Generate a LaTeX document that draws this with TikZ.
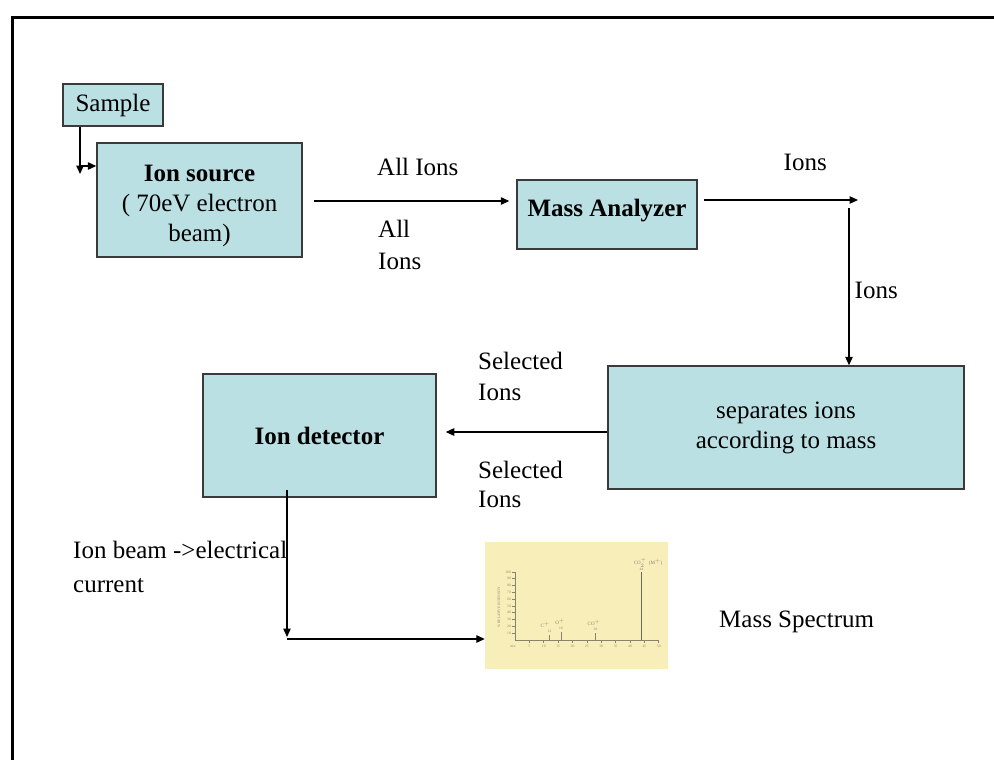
\documentclass[tikz,border=0pt]{standalone}
\usepackage{fontspec}
\setmainfont{Liberation Serif}
\usetikzlibrary{arrows.meta}
\definecolor{boxfill}{HTML}{BBE0E3}
\definecolor{boxline}{HTML}{3A3A3A}
\definecolor{paper}{HTML}{F8EEBA}
\definecolor{ink}{HTML}{8A846C}
\begin{document}
\begin{tikzpicture}[x=1pt,y=-1pt,
  font=\fontsize{25}{30}\selectfont,
  stage/.style={draw=boxline, line width=1.5pt, fill=boxfill, align=center, inner sep=0pt},
  lbl/.style={inner sep=0pt, anchor=base west},
  arr/.style={line width=1.3pt, -{Triangle[length=8.5pt,width=7.5pt]}},
  plotline/.style={draw=ink, line width=0.7pt},
  tiny/.style={font=\fontsize{3.6}{4}\selectfont, text=ink, inner sep=0pt}
]
\useasboundingbox (0,0) rectangle (994,760);
\fill[white] (0,0) rectangle (994,760);

% page frame (top and left edges)
\draw[line width=3pt] (12.5,760) -- (12.5,17.5) -- (994,17.5);

% process stages
\node[stage, minimum width=100pt, minimum height=42pt] (sample) at (113,105) {Sample};
\node[stage, minimum width=205pt, minimum height=114pt] (source) at (199.5,200)
  {\raisebox{-5pt}[\height][\depth]{\begin{tabular}{@{}c@{}}\textbf{Ion source}\\( 70eV electron\\beam)\end{tabular}}};
\node[stage, minimum width=180pt, minimum height=69pt] (ma) at (607,214.5)
  {\raisebox{4pt}[\height][\depth]{\textbf{Mass Analyzer}}};
\node[stage, minimum width=356pt, minimum height=123pt] (sep) at (786,427.5)
  {separates ions\\according to mass};
\node[stage, minimum width=233pt, minimum height=123pt] (det) at (319.5,435.5) {\textbf{Ion detector}};

% spectrum picture
\node[fill=paper, minimum width=183pt, minimum height=127pt, inner sep=0pt] (spec) at (576.5,605.5) {};

% sample feed
\coordinate (feed) at (80,174);
\coordinate (feedbend) at (80,166);
\draw[arr] (sample.south -| feed) -- (feed);
\draw[arr] (feedbend) -- (feedbend -| source.west);

% source -> analyzer
\draw[arr, shorten <=11pt, shorten >=7pt] (source.east |- 0,201) -- (ma.west |- 0,201);
\node[lbl] (allA) at (377,175) {All Ions};
\node[lbl] (allB) at (378,237) {All};
\node[lbl] (allC) at (378,269) {Ions};

% analyzer -> separator
\coordinate (turn) at (858,200);
\draw[arr, shorten <=6pt] (ma.east |- turn) -- (turn);
\node[lbl] (ionsA) at (783.5,170) {Ions};
\coordinate (down) at (849,208);
\draw[arr] (down) -- (down |- sep.north);
\node[lbl] (ionsB) at (854.5,298) {Ions};

% separator -> detector
\draw[arr, shorten >=9pt] (sep.west |- 0,432) -- (det.east |- 0,432);
\node[lbl] (selA) at (478,369) {Selected};
\node[lbl] (selB) at (478,400) {Ions};
\node[lbl] (selC) at (478,478) {Selected};
\node[lbl] (selD) at (478,507) {Ions};

% detector -> spectrum
\coordinate (tap) at (287,490);
\coordinate (elbow) at (287,639);
\draw[arr] (tap) -- (tap |- 0,637);
\draw[arr] (elbow) -- (elbow -| spec.west);
\node[lbl] (beamA) at (73,558) {Ion beam ->electrical};
\node[lbl] (beamB) at (73,592) {current};
\node[lbl] (mslbl) at (719,627) {Mass Spectrum};

% spectrum plot: m/z 0..50 over x 515..659, 0..100 % over y 640..572
\draw[plotline] (515,572) -- (515,640) -- (659,640);
\foreach \k in {1,...,10}{
  \draw[plotline] (512,640-6.8*\k) -- (515,640-6.8*\k);
  \node[tiny, anchor=east] (yt\k) at (511,640-6.8*\k) {\the\numexpr\k*10\relax};
  \draw[plotline] (515+14.375*\k,640) -- (515+14.375*\k,643);
  \node[tiny, anchor=north] (xt\k) at (515+14.375*\k,645) {\the\numexpr\k*5\relax};
}
\node[tiny, anchor=north] (mz) at (513,645) {m/z};
\node[tiny, rotate=90] (yl) at (499,607) {\% RELATIVE INTENSITY};
% peaks
\draw[plotline, line width=0.9pt] (549.5,640) -- (549.5,634.5);
\draw[plotline, line width=0.9pt] (561,640) -- (561,632);
\draw[plotline, line width=0.9pt] (595.5,640) -- (595.5,633);
\draw[draw=ink!80!black, line width=1pt] (641.5,640) -- (641.5,572);
\node[tiny] (p12) at (549.5,631) {12};
\node[tiny] (p16) at (561,628.5) {16};
\node[tiny] (p28) at (595.5,629.5) {28};
\node[tiny] (p44) at (641.5,569) {44};
\node[tiny, font=\fontsize{5}{6}\selectfont] (pc) at (545,625) {C$^+$};
\node[tiny, font=\fontsize{5}{6}\selectfont] (po) at (560,622) {O$^+$};
\node[tiny, font=\fontsize{5}{6}\selectfont] (pco) at (594,623) {CO$^+$};
\node[tiny, font=\fontsize{5}{6}\selectfont] (pco2) at (648,563) {CO$_2^+$\ \ (M$^+$)};
\end{tikzpicture}
\end{document}
